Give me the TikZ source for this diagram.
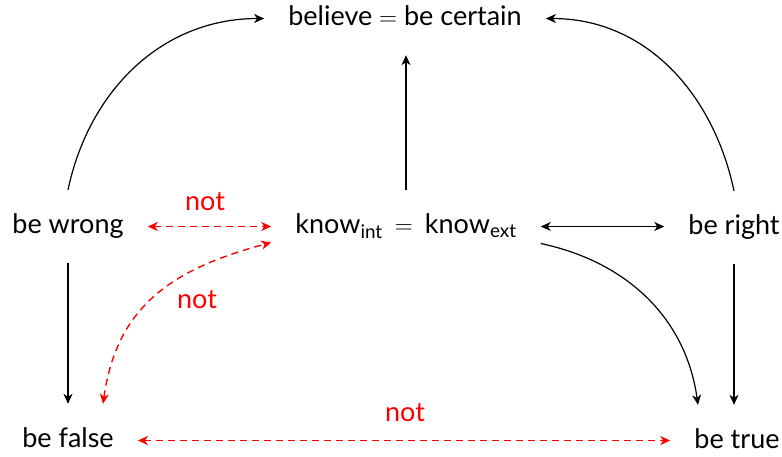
\documentclass[tikz,border=0pt]{standalone}
\usepackage{fontspec}
\setmainfont{Lato}
\usetikzlibrary{arrows.meta}
\begin{document}
\begin{tikzpicture}[x=1pt,y=-1pt,
  every node/.style={font=\fontsize{27}{32}\selectfont},
  obj/.style={anchor=base, inner xsep=24pt, inner ysep=24pt, text height=19pt, text depth=6pt},
  lbl/.style={text=red},
  arr/.style={line width=1.2pt, -{Stealth[length=10pt,width=9pt,inset=3pt]}},
  darr/.style={line width=1.2pt, {Stealth[length=10pt,width=9pt,inset=3pt]}-{Stealth[length=10pt,width=9pt,inset=3pt]}},
  rarr/.style={darr, red, line width=1.4pt, dash pattern=on 7pt off 5pt}
]
\useasboundingbox (0,0) rectangle (782,456);
\node[obj] (bel) at (405,25) {believe $=$ be certain};
\node[obj] (wrong) at (68,233) {be wrong};
\node[obj] (know) at (406,233) {know\textsubscript{int}\hspace{0.45em}$=$\hspace{0.45em}know\textsubscript{ext}};
\node[obj] (right) at (734,234) {be right};
\node[obj] (false) at (68,447) {be false};
\node[obj] (true) at (737,448) {be true};

\draw[arr] (wrong.north) to[out=78,in=180] (bel.west);
\draw[arr] (know.north) -- (know.north |- bel.south);
\draw[arr] (right.north) to[out=102,in=0] (bel.east);
\draw[darr] (know.east) -- (know.east -| right.west);
\draw[arr] ([yshift=-17pt]know.east) to[out=-12,in=98] ([xshift=-39pt]true.north);
\draw[arr] (wrong.south) -- (wrong.south |- false.north);
\draw[arr] (right.south) -- (right.south |- true.north);

\draw[rarr] (wrong.east) -- (wrong.east -| know.west);
\draw[rarr] (false.east) -- (false.east -| true.west);
\draw[rarr] ([xshift=35pt]false.north) to[out=82,in=195,looseness=1.1] ([yshift=-16pt]know.west);

\node[lbl] (n1) at (205,202) {not};
\node[lbl] (n2) at (405,413) {not};
\node[lbl] (n3) at (197,300) {not};
\end{tikzpicture}
\end{document}
